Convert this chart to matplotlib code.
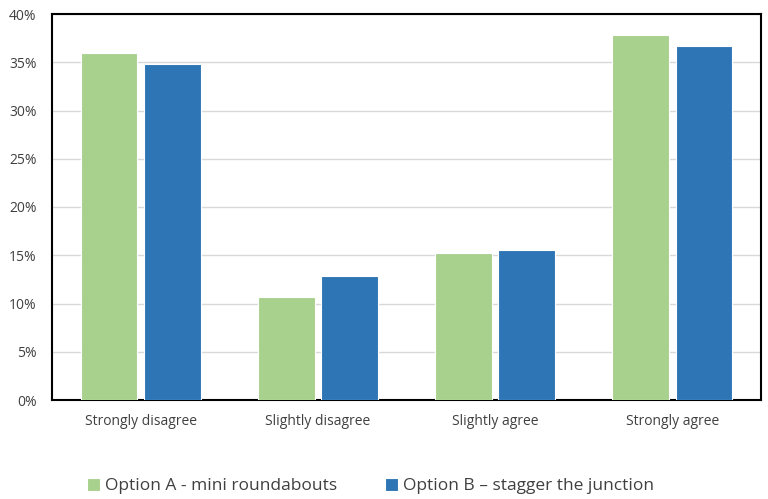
import matplotlib
matplotlib.use("Agg")
import matplotlib.pyplot as plt
import numpy as np
from matplotlib.ticker import FuncFormatter

categories = ["Strongly disagree", "Slightly disagree", "Slightly agree", "Strongly agree"]
option_a = [36.0, 10.7, 15.2, 37.8]
option_b = [34.8, 12.8, 15.5, 36.7]
series_names = ["Option A - mini roundabouts", "Option B \u2013 stagger the junction"]

plt.rcParams['font.family'] = ['Open Sans', 'DejaVu Sans']

fig = plt.figure(figsize=(7.68, 4.99), dpi=100)
ax = fig.add_axes([52/768, 1-400/499, (761-52)/768, (400-14)/499])

x = np.arange(len(categories))
w = 0.32
off = 0.178
b1 = ax.bar(x - off, option_a, w, color="#a9d18e", edgecolor="white", linewidth=0.8, label=series_names[0], zorder=3)
b2 = ax.bar(x + off, option_b, w, color="#2e75b6", edgecolor="white", linewidth=0.8, label=series_names[1], zorder=3)

ax.set_xlim(-0.5, 3.5)
ax.set_ylim(0, 40)
ax.set_yticks(np.arange(0, 41, 5))
ax.yaxis.set_major_formatter(FuncFormatter(lambda v, p: f"{int(v)}%"))
ax.set_xticks(x)
ax.set_xticklabels(categories)
ax.tick_params(axis='both', length=0, labelsize=10, colors="#404040")
ax.tick_params(axis='x', pad=10)
ax.tick_params(axis='y', pad=11)
ax.grid(axis='y', color="#d9d9d9", linewidth=1, zorder=0)
for s in ax.spines.values():
    s.set_color("black")
    s.set_linewidth(1.5)

for handle, name, xpos in [(b1, series_names[0], 87/768), (b2, series_names[1], 385/768)]:
    fig.legend(handles=[handle], labels=[name], loc="center left",
               bbox_to_anchor=(xpos, 1-486/499), frameon=False, fontsize=12.5,
               handlelength=0.75, handleheight=0.75, handletextpad=0.3,
               borderpad=0, borderaxespad=0, labelcolor="#404040")

fig.savefig("out.png", dpi=100)
